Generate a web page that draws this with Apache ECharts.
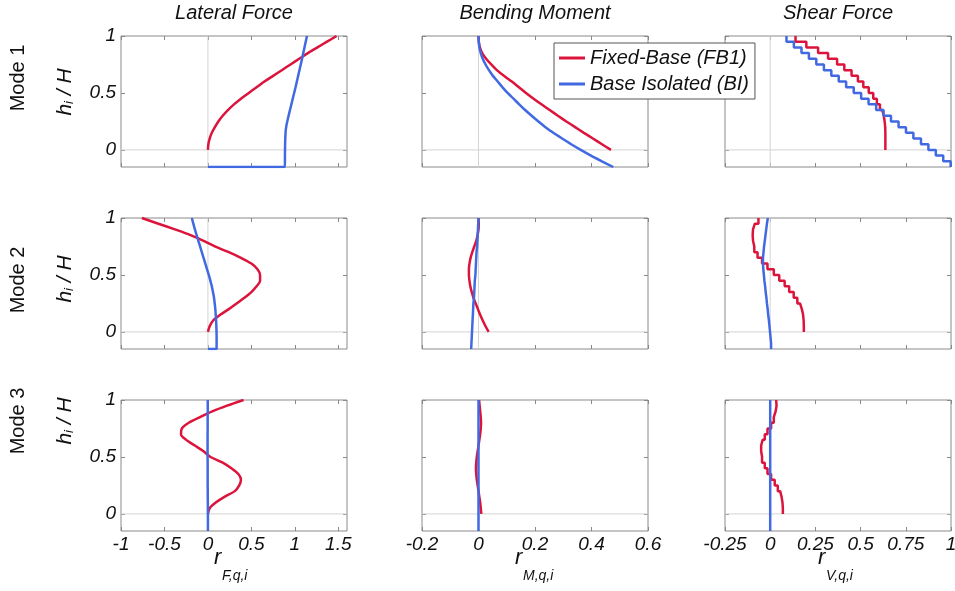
<!DOCTYPE html>
<html>
<head>
<meta charset="UTF-8">
<title>Modal response profiles</title>
<script src="https://cdn.jsdelivr.net/npm/echarts@6/dist/echarts.min.js"></script>
<style>
  body { margin: 0; padding: 0; background: #fff; }
  #chart { width: 955px; height: 591px; }
</style>
</head>
<body>
<div id="chart"></div>
<script>
// normalised heights h_i/H
var lvFB = [0, 0.05, 0.1, 0.15, 0.2, 0.25, 0.3, 0.35, 0.4, 0.45, 0.5, 0.55, 0.6, 0.65, 0.7, 0.75, 0.8, 0.85, 0.9, 0.95, 1];
var lvBI = [-0.15, -0.1, -0.05, 0, 0.05, 0.1, 0.15, 0.2, 0.25, 0.3, 0.35, 0.4, 0.45, 0.5, 0.55, 0.6, 0.65, 0.7, 0.75, 0.8, 0.85, 0.9, 0.95, 1];

// lateral force r_F (bottom -> top)
var fbLat1 = [0, 0.005, 0.02, 0.045, 0.08, 0.12, 0.17, 0.23, 0.3, 0.38, 0.47, 0.56, 0.65, 0.75, 0.85, 0.95, 1.05, 1.15, 1.26, 1.37, 1.48];
var fbLat2 = [0, 0.02, 0.06, 0.14, 0.24, 0.33, 0.42, 0.5, 0.56, 0.6, 0.6, 0.57, 0.5, 0.38, 0.24, 0.08, -0.05, -0.2, -0.38, -0.57, -0.76];
var fbLat3 = [0, 0.02, 0.09, 0.19, 0.31, 0.36, 0.38, 0.35, 0.27, 0.17, 0.03, -0.05, -0.15, -0.25, -0.31, -0.3, -0.22, -0.09, 0.05, 0.22, 0.41];
var biLatBase = [0, 0, 0]; // start of base segment at isolation level
var biLat1 = [0.885, 0.886, 0.886, 0.887, 0.888, 0.89, 0.893, 0.9, 0.913, 0.928, 0.944, 0.96, 0.976, 0.992, 1.008, 1.023, 1.038, 1.053, 1.068, 1.083, 1.097, 1.111, 1.125, 1.14];
var biLat2 = [0.1, 0.1, 0.1, 0.099, 0.097, 0.094, 0.09, 0.085, 0.078, 0.07, 0.058, 0.045, 0.028, 0.01, -0.01, -0.03, -0.05, -0.07, -0.09, -0.11, -0.13, -0.15, -0.168, -0.185];
var biLat3 = [0, 0, 0, 0, -0.001, -0.001, -0.002, -0.002, -0.003, -0.003, -0.003, -0.003, -0.003, -0.004, -0.004, -0.004, -0.004, -0.004, -0.003, -0.003, -0.003, -0.002, -0.002, -0.002];

// bending moment r_M
var fbMom1 = [0.469, 0.437, 0.405, 0.373, 0.342, 0.311, 0.281, 0.252, 0.223, 0.195, 0.168, 0.143, 0.118, 0.09, 0.065, 0.045, 0.027, 0.013, 0.005, 0.001, 0];
var fbMom2 = [0.036, 0.025, 0.015, 0.006, -0.002, -0.01, -0.018, -0.024, -0.029, -0.032, -0.034, -0.034, -0.032, -0.028, -0.022, -0.015, -0.008, -0.003, 0, 0.001, 0];
var fbMom3 = [0.01, 0.008, 0.006, 0.003, 0, -0.003, -0.006, -0.008, -0.009, -0.008, -0.006, -0.003, 0, 0.003, 0.006, 0.008, 0.009, 0.008, 0.006, 0.004, 0.002];
var biMom1 = [0.477, 0.437, 0.398, 0.362, 0.328, 0.296, 0.265, 0.237, 0.212, 0.188, 0.165, 0.144, 0.124, 0.103, 0.085, 0.068, 0.051, 0.037, 0.025, 0.015, 0.008, 0.003, 0.001, 0];
var biMom2 = [-0.026, -0.025, -0.024, -0.023, -0.022, -0.021, -0.02, -0.019, -0.018, -0.016, -0.015, -0.014, -0.013, -0.011, -0.01, -0.009, -0.008, -0.007, -0.005, -0.004, -0.003, -0.002, -0.001, 0];
var biMom3 = [0, 0, 0, 0, 0, 0, 0, 0, 0, 0, 0, 0, 0, 0, 0, 0, 0, 0, 0, 0, 0, 0, 0, 0];

// storey shear r_V, one value per storey (bottom -> top)
var fbShr1 = [0.637, 0.637, 0.637, 0.636, 0.633, 0.628, 0.62, 0.607, 0.59, 0.57, 0.545, 0.515, 0.485, 0.45, 0.41, 0.37, 0.32, 0.265, 0.2, 0.14];
var fbShr2 = [0.186, 0.185, 0.182, 0.175, 0.165, 0.15, 0.13, 0.105, 0.08, 0.05, 0.02, -0.015, -0.045, -0.07, -0.088, -0.095, -0.097, -0.095, -0.085, -0.065];
var fbShr3 = [0.07, 0.068, 0.063, 0.055, 0.042, 0.025, 0.005, -0.015, -0.03, -0.045, -0.05, -0.05, -0.042, -0.03, -0.015, 0.005, 0.02, 0.03, 0.035, 0.033];
var biShr1 = [0.998, 0.957, 0.916, 0.875, 0.834, 0.792, 0.751, 0.71, 0.668, 0.627, 0.586, 0.544, 0.503, 0.462, 0.42, 0.379, 0.338, 0.297, 0.255, 0.214, 0.173, 0.131, 0.09];
var biShr2 = [0.005, 0.002, -0.001, -0.004, -0.007, -0.011, -0.014, -0.018, -0.021, -0.025, -0.028, -0.032, -0.035, -0.038, -0.04, -0.04, -0.037, -0.034, -0.03, -0.026, -0.022, -0.018, -0.013];
var biShr3 = [0, 0, 0, 0, 0, 0, 0, 0, 0, 0, 0, 0, 0, 0, 0, 0, 0, 0, 0, 0, 0, 0, 0];

var colTitles = ['Lateral Force', 'Bending Moment', 'Shear Force'];
var rowTitles = ['Mode 1', 'Mode 2', 'Mode 3'];
var xSubs = ['F,q,i', 'M,q,i', 'V,q,i'];
var xRanges = [[-1, 1.6], [-0.2, 0.6], [-0.25, 1]];
var yRange = [-0.15, 1];
var xTicks = [[-1, -0.5, 0, 0.5, 1, 1.5], [-0.2, 0, 0.2, 0.4, 0.6], [-0.25, 0, 0.25, 0.5, 0.75, 1]];
var yTicks = [0, 0.5, 1];
var seriesNames = ['Fixed-Base (FB1)', 'Base Isolated (BI)'];

var RED = '#dc143c', BLUE = '#4169e1';
var FONT = '"Liberation Sans", Arial, sans-serif';

var colLeft = [121, 422, 725], colW = 226;
var rowTop = [36, 218, 400], rowH = 131;

function pairs(xs, ys) {
    var out = [];
    for (var i = 0; i < xs.length; i++) out.push([xs[i], ys[i]]);
    return out;
}
function steps(vals, lv) {
    var out = [];
    for (var i = 0; i < vals.length; i++) {
        out.push([vals[i], lv[i]]);
        out.push([vals[i], lv[i + 1]]);
    }
    return out;
}

var fbData = [
    [pairs(fbLat1, lvFB), pairs(fbMom1, lvFB), steps(fbShr1, lvFB)],
    [pairs(fbLat2, lvFB), pairs(fbMom2, lvFB), steps(fbShr2, lvFB)],
    [pairs(fbLat3, lvFB), pairs(fbMom3, lvFB), steps(fbShr3, lvFB)]
];
var biLats = [biLat1, biLat2, biLat3];
var biData = [];
for (var m = 0; m < 3; m++) {
    biData.push([
        [[biLatBase[m], lvBI[0]]].concat(pairs(biLats[m], lvBI)),
        pairs([biMom1, biMom2, biMom3][m], lvBI),
        steps([biShr1, biShr2, biShr3][m], lvBI)
    ]);
}

var grids = [], xAxes = [], yAxes = [], series = [], graphics = [];
var tickStyle = { show: true, inside: true, length: 4, lineStyle: { color: '#888', width: 1 } };
var labelStyle = { color: '#111', fontSize: 19, fontStyle: 'italic', fontFamily: FONT };
var zeroStyle = { color: '#d4d4d4', width: 1 };

for (var r = 0; r < 3; r++) {
    for (var c = 0; c < 3; c++) {
        var g = grids.length;
        grids.push({
            left: colLeft[c], top: rowTop[r], width: colW, height: rowH,
            show: true, borderColor: '#8a8a8a', borderWidth: 1, backgroundColor: 'transparent',
            containLabel: false, outerBoundsMode: 'none'
        });
        ['bottom', 'top'].forEach(function (pos) {
            xAxes.push({
                gridIndex: g, type: 'value', position: pos,
                min: xRanges[c][0], max: xRanges[c][1],
                axisLine: { show: false, onZero: false },
                axisTick: Object.assign({ customValues: xTicks[c] }, tickStyle),
                axisLabel: Object.assign({ show: pos === 'bottom' && r === 2, customValues: xTicks[c], margin: 4 }, labelStyle),
                splitLine: { show: false }
            });
        });
        ['left', 'right'].forEach(function (pos) {
            yAxes.push({
                gridIndex: g, type: 'value', position: pos,
                min: yRange[0], max: yRange[1],
                axisLine: { show: false, onZero: false },
                axisTick: Object.assign({ customValues: yTicks }, tickStyle),
                axisLabel: Object.assign({ show: pos === 'left' && c === 0, customValues: yTicks, margin: 5 }, labelStyle),
                splitLine: { show: false }
            });
        });
        // zero reference lines (x = 0 and y = 0), underneath the profiles
        series.push({
            name: 'x0', type: 'line', xAxisIndex: 2 * g, yAxisIndex: 2 * g, silent: true, z: 1,
            data: [[0, yRange[0]], [0, yRange[1]]], showSymbol: false, lineStyle: zeroStyle
        });
        series.push({
            name: 'y0', type: 'line', xAxisIndex: 2 * g, yAxisIndex: 2 * g, silent: true, z: 1,
            data: [[xRanges[c][0], 0], [xRanges[c][1], 0]], showSymbol: false, lineStyle: zeroStyle
        });
        series.push({
            name: seriesNames[0], type: 'line', xAxisIndex: 2 * g, yAxisIndex: 2 * g,
            data: fbData[r][c], showSymbol: false, smooth: c === 2 ? false : 0.3,
            lineStyle: { color: RED, width: 2.5 }, itemStyle: { color: RED }, z: 3
        });
        series.push({
            name: seriesNames[1], type: 'line', xAxisIndex: 2 * g, yAxisIndex: 2 * g,
            data: biData[r][c], showSymbol: false, smooth: c === 2 ? false : 0.3,
            lineStyle: { color: BLUE, width: 2.5 }, itemStyle: { color: BLUE }, z: 4
        });
    }
}

// column titles
colTitles.forEach(function (t, c) {
    graphics.push({
        type: 'text', x: colLeft[c] + colW / 2, y: 13,
        style: { text: t, fill: '#111', font: 'italic 20px ' + FONT, align: 'center', verticalAlign: 'middle' }
    });
});
// row titles and y-axis names
var modeY = [78, 280, 421], nameY = [92, 279, 421];
rowTitles.forEach(function (t, r) {
    graphics.push({
        type: 'text', x: 18, y: modeY[r], rotation: Math.PI / 2,
        style: { text: t, fill: '#111', font: '20px ' + FONT, align: 'center', verticalAlign: 'middle' }
    });
    graphics.push({
        type: 'text', x: 64, y: nameY[r], rotation: Math.PI / 2,
        style: {
            text: '{h|h}{s|i}{h| / H}', align: 'center', verticalAlign: 'middle',
            rich: {
                h: { fontSize: 21, fontFamily: FONT, fontStyle: 'italic', fill: '#111', verticalAlign: 'bottom', lineHeight: 24 },
                s: { fontSize: 13, fontFamily: FONT, fontStyle: 'italic', fill: '#111', verticalAlign: 'bottom', lineHeight: 16 }
            }
        }
    });
});
// x-axis names r_{.,q,i}
xSubs.forEach(function (s, c) {
    var cx = colLeft[c] + colW / 2 - 20;
    graphics.push({
        type: 'text', x: cx, y: 558,
        style: { text: 'r', fill: '#111', font: 'italic 22px ' + FONT, align: 'left', verticalAlign: 'middle' }
    });
    graphics.push({
        type: 'text', x: cx + 8, y: 576,
        style: { text: s, fill: '#111', font: 'italic 14px ' + FONT, align: 'left', verticalAlign: 'middle' }
    });
});

var chart = echarts.init(document.getElementById('chart'));
chart.setOption({
    animation: false,
    backgroundColor: '#fff',
    legend: {
        data: seriesNames, orient: 'vertical', left: 554, top: 43,
        icon: 'rect', itemWidth: 26, itemHeight: 3, itemGap: 6,
        padding: [5, 6, 5, 5],
        backgroundColor: '#fff', borderColor: '#555', borderWidth: 1,
        textStyle: { fontSize: 20, fontStyle: 'italic', fontFamily: FONT, color: '#111' },
        z: 10
    },
    grid: grids,
    xAxis: xAxes,
    yAxis: yAxes,
    series: series,
    graphic: graphics
});
</script>
</body>
</html>
